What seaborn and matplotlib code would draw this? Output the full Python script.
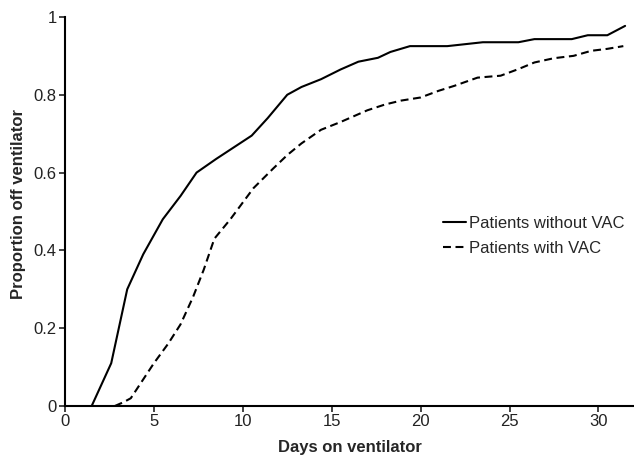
import pandas as pd
import matplotlib
matplotlib.use("Agg")
import matplotlib.pyplot as plt
import seaborn as sns

# Dias en ventilador y proporcion fuera del ventilador
dias_sin_vac = [1.5, 2.6, 3.5, 4.4, 5.5, 6.5, 7.4, 8.5, 9.5, 10.5, 11.4, 12.5, 13.3, 14.4,
                15.5, 16.5, 17.6, 18.3, 19.4, 20.5, 21.5, 22.5, 23.5, 24.5, 25.5, 26.4,
                27.5, 28.5, 29.4, 30.5, 31.5]
prop_sin_vac = [0.0, 0.11, 0.30, 0.39, 0.48, 0.54, 0.60, 0.635, 0.665, 0.695, 0.74, 0.80,
                0.82, 0.84, 0.865, 0.885, 0.895, 0.91, 0.925, 0.925, 0.925, 0.93, 0.935,
                0.935, 0.935, 0.943, 0.943, 0.943, 0.953, 0.953, 0.977]

dias_con_vac = [2.8, 3.3, 3.7, 5.0, 5.8, 6.5, 7.2, 7.8, 8.4, 9.3, 10.6, 11.7, 12.5, 13.3,
                14.4, 15.5, 17.0, 18.0, 18.9, 20.0, 21.0, 21.9, 23.2, 24.5, 25.5, 26.4,
                27.5, 28.6, 29.6, 30.5, 31.4]
prop_con_vac = [0.0, 0.01, 0.02, 0.11, 0.16, 0.21, 0.28, 0.35, 0.43, 0.48, 0.56, 0.61,
                0.645, 0.675, 0.71, 0.73, 0.76, 0.775, 0.785, 0.793, 0.81, 0.823, 0.844,
                0.849, 0.866, 0.883, 0.894, 0.90, 0.913, 0.918, 0.925]

etiquetas = ["Patients without VAC", "Patients with VAC"]

df = pd.concat([
    pd.DataFrame({"dias": dias_sin_vac, "prop": prop_sin_vac, "grupo": etiquetas[0]}),
    pd.DataFrame({"dias": dias_con_vac, "prop": prop_con_vac, "grupo": etiquetas[1]}),
])

sns.set_theme(style="ticks")
plt.rcParams["font.family"] = ["Liberation Sans", "DejaVu Sans"]

fig = plt.figure(figsize=(6.34, 4.58), dpi=100)
ax = fig.add_axes([0.1025, 0.1135, 0.8975, 0.8495])

sns.lineplot(data=df, x="dias", y="prop", style="grupo", style_order=etiquetas,
             dashes={etiquetas[0]: "", etiquetas[1]: (3.8, 2.2)},
             color="black", linewidth=1.5, ax=ax, estimator=None, sort=False)

ax.set_xlim(0, 32)
ax.set_ylim(0, 1)
ax.set_xticks([0, 5, 10, 15, 20, 25, 30])
ax.set_yticks([0, 0.2, 0.4, 0.6, 0.8, 1])
ax.set_yticklabels(["0", "0.2", "0.4", "0.6", "0.8", "1"])
ax.tick_params(labelsize=12, length=4, width=1.2, colors="#222222", pad=2)
sns.despine(ax=ax)
for s in ["left", "bottom"]:
    ax.spines[s].set_linewidth(1.5)
    ax.spines[s].set_color("black")

ax.set_xlabel("Days on ventilator", fontsize=12, fontweight="bold", labelpad=8)
ax.set_ylabel("Proportion off ventilator", fontsize=12, fontweight="bold")
ax.yaxis.set_label_coords(-0.068, 0.52)

leg = ax.legend(frameon=False, loc="center right", bbox_to_anchor=(1.01, 0.437),
                fontsize=12, handlelength=1.4, handletextpad=0.2, labelspacing=0.62)

fig.savefig("out.png", dpi=100)
